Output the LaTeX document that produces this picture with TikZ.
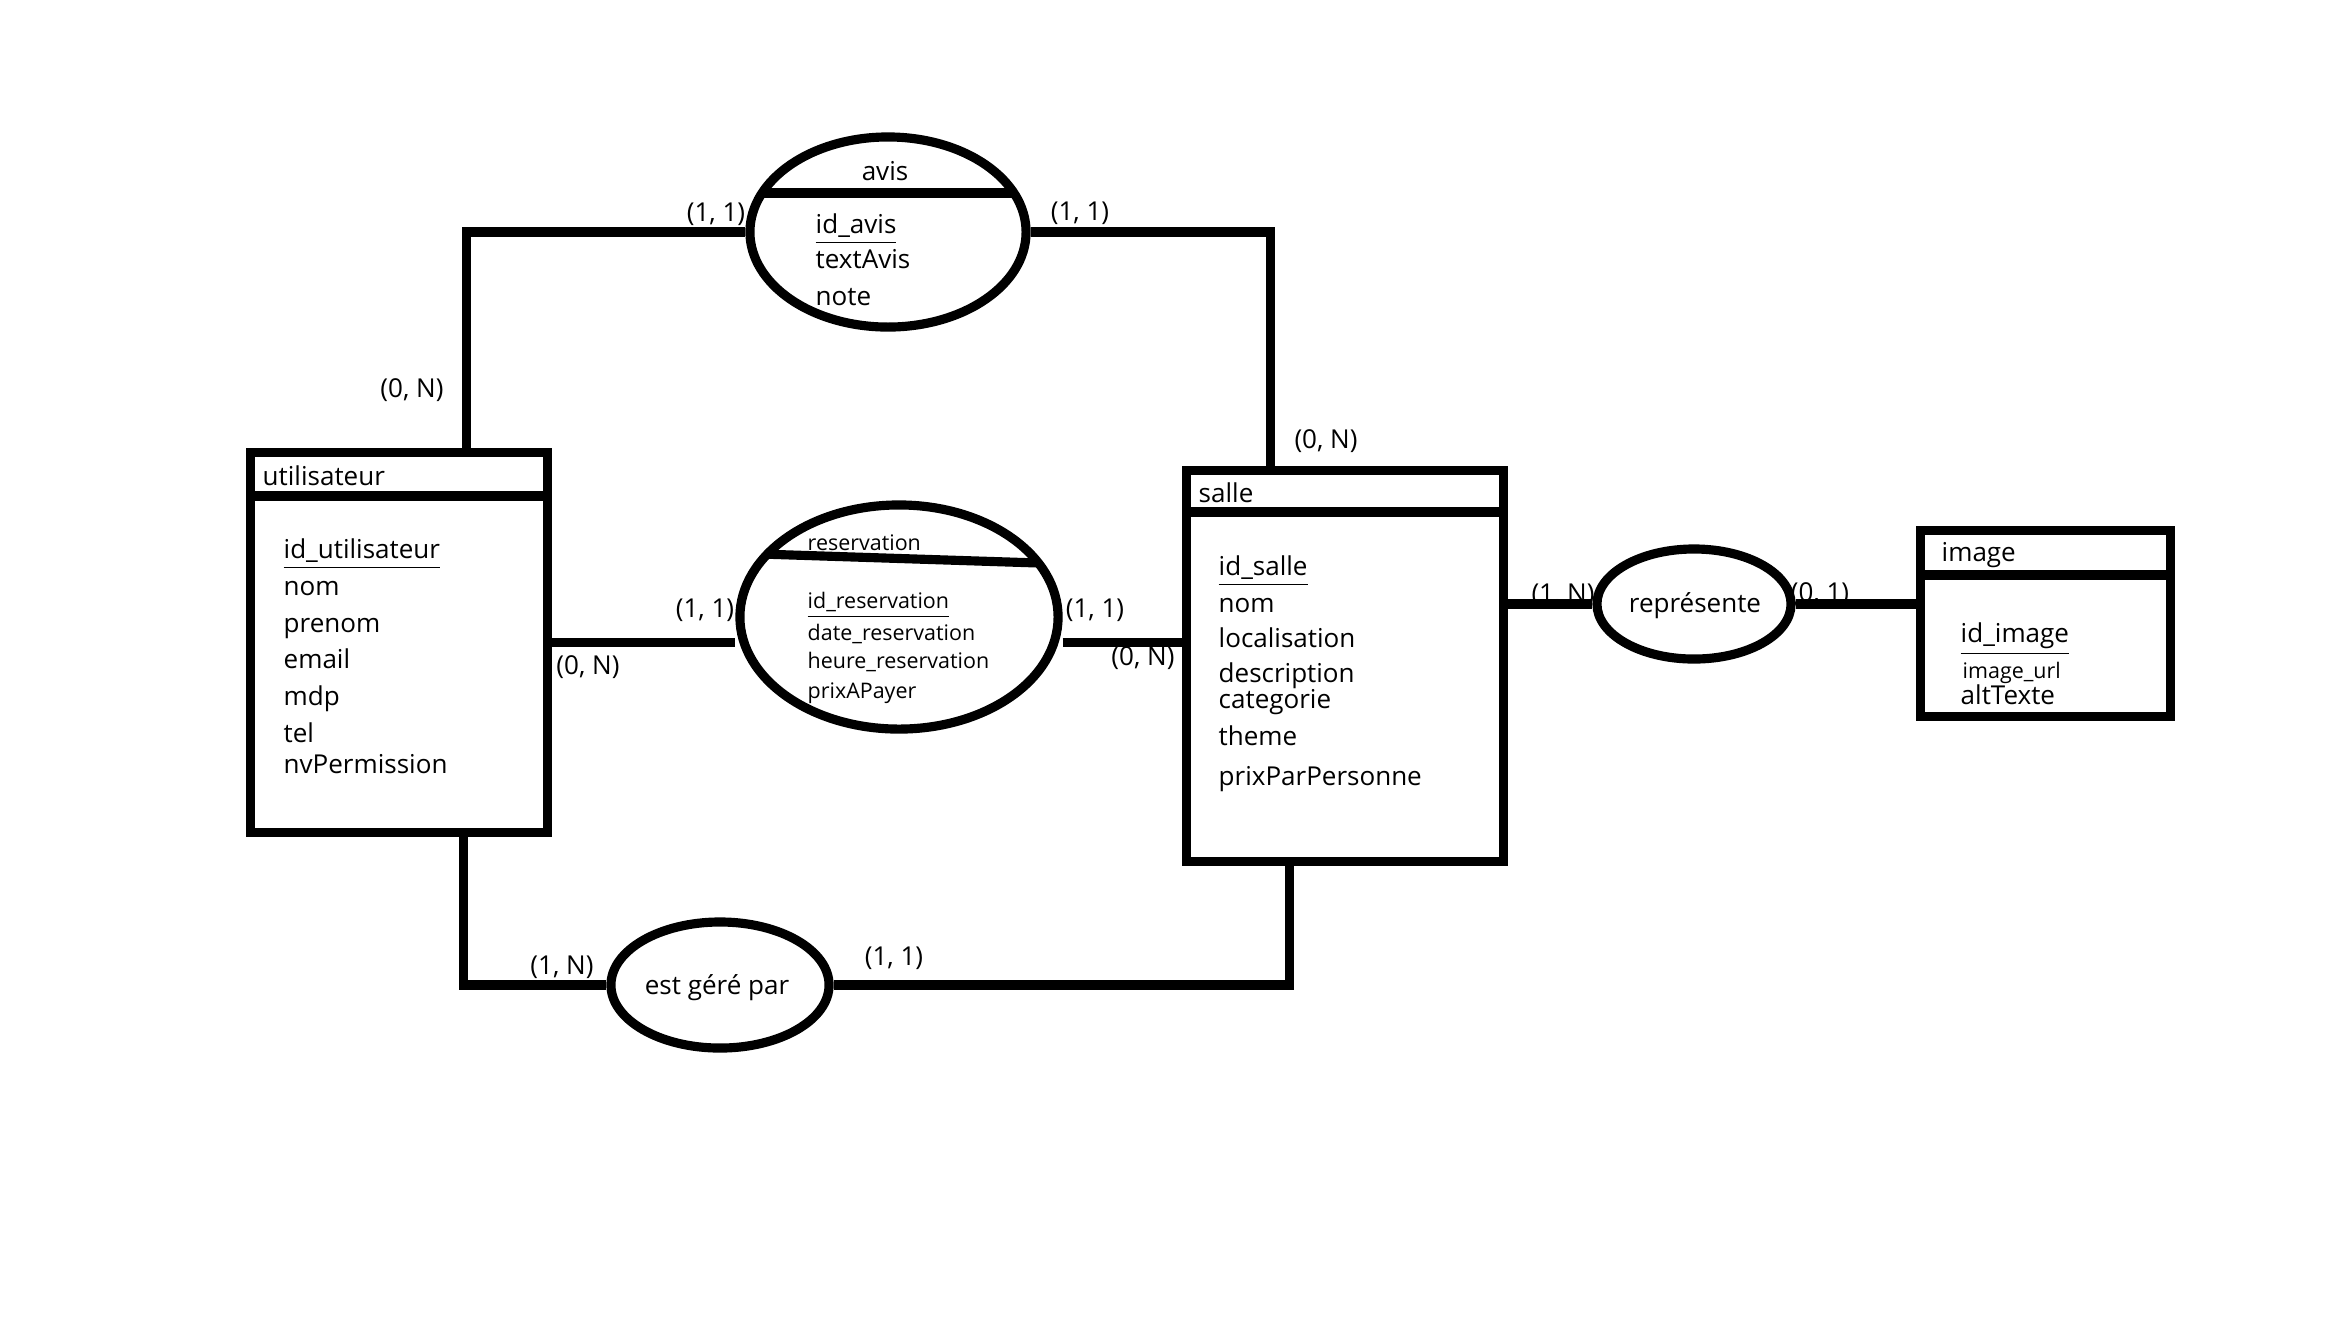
\documentclass[tikz,border=0pt]{standalone}
\usepackage{fontspec}
\setmainfont{Open Sans}
\usetikzlibrary{shapes.geometric, calc}
\tikzset{
  ln/.style   ={line width=2.6pt, color=black},
  ent/.style  ={rectangle, draw=black, line width=2.6pt, anchor=north west, inner sep=0pt},
  rel/.style  ={ellipse, draw=black, line width=2.6pt, inner sep=0pt},
  attr/.style ={anchor=west, inner sep=0pt, text height=1.5ex, text depth=0.4ex, font=\fontsize{7.4}{9}\selectfont},
  sattr/.style={anchor=west, inner sep=0pt, text height=1.5ex, text depth=0.4ex, font=\fontsize{6.1}{7.5}\selectfont},
  card/.style ={inner sep=0pt, text height=1.5ex, text depth=0.4ex, font=\fontsize{7.4}{9}\selectfont},
}

\begin{document}
\begin{tikzpicture}[x=0.01cm, y=-0.01cm]
  \path[use as bounding box, fill=white] (0,0) rectangle (2352,1323);
  % entites
  \node[ent, minimum width=2.97cm, minimum height=3.80cm] (utilisateur) at (246,448) {};
  \node[ent, minimum width=3.17cm, minimum height=3.91cm] (salle) at (1182,466) {};
  \node[ent, minimum width=2.50cm, minimum height=1.86cm] (image) at (1916,526) {};
  \draw[ln] (utilisateur.west |- 0,496) -- (utilisateur.east |- 0,496);
  \draw[ln] (salle.west |- 0,512) -- (salle.east |- 0,512);
  \draw[ln] (image.west |- 0,575) -- (image.east |- 0,575);
  % associations
  \node[rel, minimum width=2.76cm, minimum height=1.90cm] (avis) at (888,232) {};
  \node[rel, minimum width=3.18cm, minimum height=2.24cm] (reservation) at (899,617) {};
  \node[rel, minimum width=1.94cm, minimum height=1.10cm] (represente) at (1694,604) {};
  \node[rel, minimum width=2.18cm, minimum height=1.26cm] (gere) at (720,985) {};
  \begin{scope}
    \clip (avis.center) ellipse [x radius=1.38cm, y radius=0.95cm];
    \draw[ln] (700,193) -- (1080,193);
  \end{scope}
  \begin{scope}
    \clip (reservation.center) ellipse [x radius=1.59cm, y radius=1.12cm];
    \draw[ln] (730,553) -- (1070,564);
  \end{scope}
  % textes
  \node[attr] (t-util) at (262,475) {utilisateur};
  \node[attr] (t-salle) at (1198,492) {salle};
  \node[attr] (t-image) at (1941,551) {image};
  \node[attr, anchor=center] (t-avis) at (885,170) {avis};
  \node[sattr] (t-res) at (807,540) {reservation};
  \node[attr, anchor=center] (t-rep) at (1695,602) {représente};
  \node[attr, anchor=center] (t-gere) at (717,984) {est géré par};
  \foreach \t/\y [count=\i] in {{\underline{id\_utilisateur}}/548, nom/585, prenom/622, email/658, mdp/695, tel/732, nvPermission/763}
    \node[attr] (u\i) at (283,\y) {\t};
  \foreach \t/\y [count=\i] in {{\underline{id\_salle}}/565, nom/602, localisation/637, description/672, categorie/698, theme/735, prixParPersonne/775}
    \node[attr] (s\i) at (1218,\y) {\t};
  \foreach \t/\y [count=\i] in {{\underline{id\_avis}}/223, textAvis/258, note/295}
    \node[attr] (a\i) at (815,\y) {\t};
  \foreach \t/\y [count=\i] in {{\underline{id\_reservation}}/598, date\_reservation/630, heure\_reservation/658, prixAPayer/688}
    \node[sattr] (r\i) at (807,\y) {\t};
  \node[attr] (i1) at (1960,632) {\underline{id\_image}};
  \node[sattr] (i2) at (1962,668) {image\_url};
  \node[attr] (i3) at (1960,694) {altTexte};
  % liens
  \draw[ln] ($(utilisateur.north west)!0.72!(utilisateur.north east)$) |- (avis.west);
  \draw[ln] (avis.east) -| ($(salle.north west)!0.27!(salle.north east)$);
  \draw[ln] (utilisateur.east) -- (utilisateur.east -| reservation.west);
  \draw[ln] (utilisateur.east -| reservation.east) -- (utilisateur.east -| salle.west);
  \draw[ln] (salle.east |- represente.west) -- (represente.west);
  \draw[ln] (represente.east) -- (represente.east -| image.west);
  \draw[ln] ($(utilisateur.south west)!0.71!(utilisateur.south east)$) |- (gere.west);
  \draw[ln] (gere.east) -| ($(salle.south west)!0.33!(salle.south east)$);
  % cardinalites
  \node[card] (k1) at (412,387) {(0, N)};
  \node[card] (k2) at (716,211) {(1, 1)};
  \node[card] (k3) at (1080,210) {(1, 1)};
  \node[card] (k4) at (1326,438) {(0, N)};
  \node[card] (k5) at (705,607) {(1, 1)};
  \node[card] (k6) at (588,664) {(0, N)};
  \node[card] (k7) at (1095,607) {(1, 1)};
  \node[card] (k8) at (1143,655) {(0, N)};
  \node[card] (k9) at (1563,592) {(1, N)};
  \node[card] (k10) at (1820,591) {(0, 1)};
  \node[card] (k11) at (562,964) {(1, N)};
  \node[card] (k12) at (894,955) {(1, 1)};
\end{tikzpicture}
\end{document}
